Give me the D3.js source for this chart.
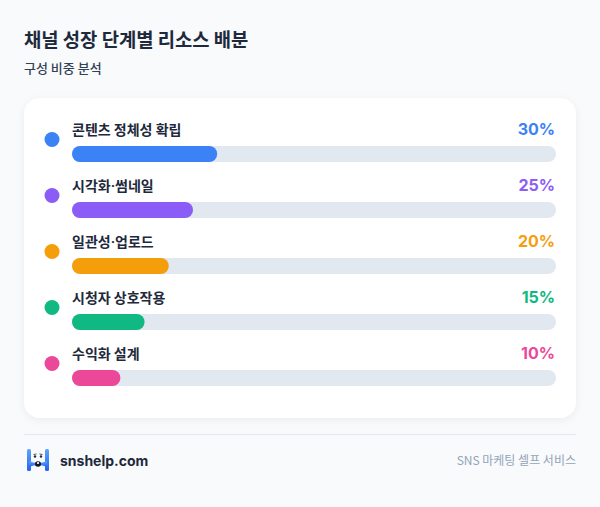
<!DOCTYPE html>
<html><head><meta charset="utf-8">
<script src="https://cdn.jsdelivr.net/npm/d3@7"></script>
<style>
html,body{margin:0;padding:0;background:#f8fafc;}
svg{display:block;font-family:"Noto Sans CJK KR","Noto Sans",sans-serif;}
</style></head>
<body>
<svg id="chart" width="600" height="507"></svg>
<script>
const categories = ["콘텐츠 정체성 확립","시각화·썸네일","일관성·업로드","시청자 상호작용","수익화 설계"];
const values = [30,25,20,15,10];
const colors = ["#3b82f6","#8b5cf6","#f59e0b","#10b981","#ec4899"];
const title = "채널 성장 단계별 리소스 배분";
const subtitle = "구성 비중 분석";

const svg = d3.select("#chart");
const defs = svg.append("defs");
const f = defs.append("filter").attr("id","sh").attr("x","-10%").attr("y","-10%").attr("width","120%").attr("height","130%");
f.append("feDropShadow").attr("dx",0).attr("dy",2).attr("stdDeviation",4).attr("flood-color","#0f172a").attr("flood-opacity",0.06);

svg.append("rect").attr("width",600).attr("height",507).attr("fill","#f8fafc");

svg.append("text").attr("x",24).attr("y",47).attr("font-size",18.8).attr("font-weight",700).attr("fill","#1e293b").text(title);
svg.append("text").attr("x",24).attr("y",73).attr("font-size",13).attr("font-weight",500).attr("fill","#334155").text(subtitle);

svg.append("rect").attr("x",24).attr("y",98).attr("width",552).attr("height",320).attr("rx",16).attr("fill","#ffffff").attr("filter","url(#sh)");

const x = d3.scaleLinear().domain([0,100]).range([72,556]);
const y = d3.scaleBand().domain(categories).range([111,391]).paddingInner(0);

const rows = svg.append("g").selectAll("g").data(categories).join("g")
  .attr("transform", d => `translate(0,${y(d)})`);

rows.append("circle").attr("cx",52).attr("cy",28.5).attr("r",7.5).attr("fill",(d,i)=>colors[i]);
const lbl = rows.append("text").attr("x",72).attr("y",24).attr("font-size",14).attr("font-weight",600).attr("fill","#1e293b");
lbl.each(function(d){
  const t = d3.select(this);
  d.split(/(·)/).forEach(part => {
    const ts = t.append("tspan").text(part);
    if (part === "·") ts.attr("font-family","Inter, 'Noto Sans', sans-serif");
  });
});
rows.append("text").attr("x",555).attr("y",24).attr("text-anchor","end").attr("font-size",16).attr("font-weight",700)
  .attr("font-family","Inter, 'Noto Sans', sans-serif")
  .attr("fill",(d,i)=>colors[i]).text((d,i)=>values[i]+"%");
rows.append("rect").attr("x",x(0)).attr("y",35).attr("width",x(100)-x(0)).attr("height",16).attr("rx",8).attr("fill","#e2e8f0");
rows.append("rect").attr("x",x(0)).attr("y",35).attr("width",(d,i)=>x(values[i])-x(0)).attr("height",16).attr("rx",8).attr("fill",(d,i)=>colors[i]);

// footer
svg.append("line").attr("x1",24).attr("x2",576).attr("y1",434.5).attr("y2",434.5).attr("stroke","#e2e8f0").attr("stroke-width",1);

const logo = svg.append("g").attr("transform","translate(27,449)");
const lg = defs.append("linearGradient").attr("id","lg").attr("x1",0).attr("y1",0).attr("x2",0).attr("y2",1);
lg.append("stop").attr("offset",0).attr("stop-color","#60a5fa");
lg.append("stop").attr("offset",1).attr("stop-color","#2563eb");
logo.append("rect").attr("x",0).attr("y",0).attr("width",4).attr("height",22).attr("rx",1.5).attr("fill","url(#lg)");
logo.append("rect").attr("x",18).attr("y",0).attr("width",4).attr("height",22).attr("rx",1.5).attr("fill","url(#lg)");
logo.append("path").attr("d","M2,12 Q11,16 20,12 L20,18 Q11,14 2,18 Z").attr("fill","url(#lg)");
logo.append("ellipse").attr("cx",11).attr("cy",15).attr("rx",3).attr("ry",2.8).attr("fill","#0f172a");
logo.append("ellipse").attr("cx",11).attr("cy",14).attr("rx",1.2).attr("ry",1).attr("fill","#ffffff");
logo.append("circle").attr("cx",8).attr("cy",7.5).attr("r",1.2).attr("fill","#1e293b");
logo.append("circle").attr("cx",14).attr("cy",7.5).attr("r",1.2).attr("fill","#1e293b");
logo.append("path").attr("d","M6.5,5.5 L9.5,5 M12.5,5 L15.5,5.5").attr("stroke","#1e293b").attr("stroke-width",0.8);

svg.append("text").attr("x",60).attr("y",466).attr("font-size",14).attr("font-weight",700).attr("fill","#1e293b")
  .attr("font-family","Inter, 'Noto Sans', sans-serif").text("snshelp.com");
svg.append("text").attr("x",576).attr("y",465).attr("text-anchor","end").attr("font-size",12).attr("fill","#94a3b8").text("SNS 마케팅 셀프 서비스");
</script>
</body></html>
